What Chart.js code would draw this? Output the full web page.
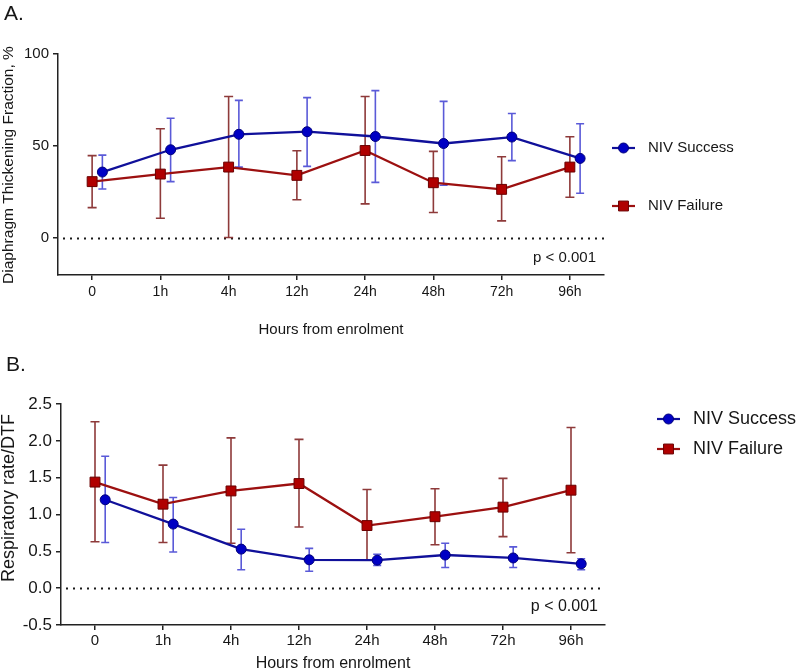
<!DOCTYPE html>
<html><head><meta charset="utf-8">
<script src="https://cdn.jsdelivr.net/npm/chart.js@4"></script>
<style>
html,body{margin:0;padding:0;background:#fff;}
#wrap{position:relative;width:797px;height:671px;overflow:hidden;background:#fff;}
canvas{position:absolute;left:0;}
#cA{top:0;width:797px;height:340px;}
#cB{top:340px;width:797px;height:331px;}
</style></head><body>
<div id="wrap">
<canvas id="cA" width="797" height="340"></canvas>
<canvas id="cB" width="797" height="331"></canvas>
</div>
<script>
// ---- data ----
const categories = ['0', '1h', '4h', '12h', '24h', '48h', '72h', '96h'];
const seriesNames = ['NIV Success', 'NIV Failure'];

// Panel A: Diaphragm Thickening Fraction, %
const dtfTicks = [0, 50, 100];
const dtfSuccessMean = [35.9, 48.0, 56.4, 57.8, 55.2, 51.4, 54.9, 43.3];
const dtfSuccessLow  = [26.7, 30.7, 38.6, 39.0, 30.3, 28.7, 42.1, 24.4];
const dtfSuccessHigh = [45.1, 65.1, 74.8, 76.3, 80.1, 74.3, 67.7, 62.1];
const dtfFailureMean = [30.7, 34.8, 38.6, 34.1, 47.6, 30.1, 26.5, 38.6];
const dtfFailureLow  = [16.6, 10.8, 0.4, 20.9, 18.6, 13.9, 9.4, 22.2];
const dtfFailureHigh = [44.8, 59.4, 76.9, 47.5, 76.9, 47.1, 44.2, 55.1];

// Panel B: Respiratory rate/DTF
const rrTicks = [-0.5, 0, 0.5, 1.0, 1.5, 2.0, 2.5];
const rrSuccessMean = [1.20, 0.87, 0.53, 0.385, 0.38, 0.45, 0.41, 0.33];
const rrSuccessLow  = [0.62, 0.49, 0.25, 0.23, 0.31, 0.28, 0.28, 0.25];
const rrSuccessHigh = [1.79, 1.23, 0.80, 0.54, 0.46, 0.61, 0.56, 0.40];
const rrFailureMean = [1.44, 1.14, 1.32, 1.42, 0.85, 0.97, 1.10, 1.33];
const rrFailureLow  = [0.63, 0.62, 0.61, 0.83, 0.38, 0.59, 0.70, 0.48];
const rrFailureHigh = [2.26, 1.67, 2.04, 2.02, 1.34, 1.35, 1.49, 2.18];

// ---- styles ----
const SANS = "'Liberation Sans', Arial, Helvetica, sans-serif";
const TXT = '#161616';
const AX = '#222222';
const BLUE_LINE = '#10109a', BLUE_FILL = '#0000c4', BLUE_EDGE = '#00007a', BLUE_BAR = '#5a5ad8';
const RED_LINE = '#9c1010', RED_FILL = '#b00000', RED_EDGE = '#6a0000', RED_BAR = '#8e3a3a';
const SUCCESS_SHIFT = 0.15;

const errorBars = {
  id: 'errorBars',
  beforeDatasetsDraw(chart) {
    const ctx = chart.ctx, ys = chart.scales.y, ca = chart.chartArea;
    ctx.save();
    // dotted zero reference line
    ctx.strokeStyle = '#1a1a1a'; ctx.lineWidth = 2; ctx.setLineDash([2, 5]);
    const y0 = Math.round(ys.getPixelForValue(0)) + 0.5;
    ctx.beginPath(); ctx.moveTo(ca.left + 5, y0); ctx.lineTo(ca.right, y0); ctx.stroke();
    ctx.setLineDash([]);
    chart.data.datasets.forEach((ds, di) => {
      const meta = chart.getDatasetMeta(di);
      ctx.strokeStyle = ds.barColor; ctx.lineWidth = 1.6;
      meta.data.forEach((pt, i) => {
        const x = pt.x;
        const yl = ys.getPixelForValue(ds.errLow[i]);
        const yh = ys.getPixelForValue(ds.errHigh[i]);
        const c = ds.capHalf;
        ctx.beginPath();
        ctx.moveTo(x, yl); ctx.lineTo(x, yh);
        ctx.moveTo(x - c, yl); ctx.lineTo(x + c, yl);
        ctx.moveTo(x - c, yh); ctx.lineTo(x + c, yh);
        ctx.stroke();
      });
    });
    ctx.restore();
  }
};

function drawMarker(ctx, style, x, y, r, fill, edge) {
  ctx.fillStyle = fill; ctx.strokeStyle = edge; ctx.lineWidth = 1;
  ctx.beginPath();
  if (style === 'circle') ctx.arc(x, y, r, 0, Math.PI * 2);
  else { const s = r * Math.SQRT1_2; ctx.rect(x - s, y - s, 2 * s, 2 * s); }
  ctx.fill(); ctx.stroke();
}

function textPlugin(t) {
  return {
    id: 'panelText',
    afterDraw(chart) {
      const ctx = chart.ctx;
      ctx.save();
      ctx.fillStyle = TXT;
      // panel letter
      ctx.font = '21px ' + SANS; ctx.textAlign = 'left'; ctx.textBaseline = 'middle';
      ctx.fillText(t.letter, t.letterX, t.letterY);
      // x title
      ctx.font = t.xTitleFont; ctx.textAlign = 'center';
      ctx.fillText('Hours from enrolment', t.xTitleX, t.xTitleY);
      // y title
      ctx.save();
      ctx.translate(t.yTitleX, t.yTitleY); ctx.rotate(-Math.PI / 2);
      ctx.font = t.yTitleFont; ctx.textAlign = 'center'; ctx.textBaseline = 'middle';
      ctx.fillText(t.yTitle, 0, 0);
      ctx.restore();
      // p value
      ctx.font = t.pFont; ctx.textAlign = 'right'; ctx.textBaseline = 'middle';
      ctx.fillText('p < 0.001', t.pX, t.pY);
      // legend
      chart.data.datasets.forEach((ds, i) => {
        const y = t.legY[i];
        ctx.strokeStyle = ds.borderColor; ctx.lineWidth = 2.2;
        ctx.beginPath(); ctx.moveTo(t.legX1, y); ctx.lineTo(t.legX2, y); ctx.stroke();
        drawMarker(ctx, ds.pointStyle, (t.legX1 + t.legX2) / 2, y, ds.pointRadius, ds.backgroundColor, ds.pointBorderColor);
        ctx.fillStyle = TXT; ctx.font = t.legFont; ctx.textAlign = 'left'; ctx.textBaseline = 'middle';
        ctx.fillText(ds.label, t.legTextX, y);
      });
      ctx.restore();
    }
  };
}

function makePanel(id, d, L, t) {
  const datasets = [
    { label: seriesNames[0], data: d.sMean.map((v, i) => ({ x: i + SUCCESS_SHIFT, y: v })),
      errLow: d.sLow, errHigh: d.sHigh, barColor: BLUE_BAR, capHalf: 4,
      borderColor: BLUE_LINE, backgroundColor: BLUE_FILL, pointBorderColor: BLUE_EDGE,
      pointStyle: 'circle', pointRadius: 5, pointBorderWidth: 1, borderWidth: 2.3, tension: 0 },
    { label: seriesNames[1], data: d.fMean.map((v, i) => ({ x: i, y: v })),
      errLow: d.fLow, errHigh: d.fHigh, barColor: RED_BAR, capHalf: 4.5,
      borderColor: RED_LINE, backgroundColor: RED_FILL, pointBorderColor: RED_EDGE,
      pointStyle: 'rect', pointRadius: 7, pointBorderWidth: 1, borderWidth: 2.3, tension: 0 }
  ];
  const gridOpts = { display: true, drawOnChartArea: false, drawTicks: true, tickLength: 5, color: AX, lineWidth: 1.5 };
  return new Chart(document.getElementById(id), {
    type: 'line',
    data: { datasets },
    plugins: [errorBars, textPlugin(t)],
    options: {
      responsive: false, animation: false, devicePixelRatio: 1,
      layout: { padding: L.padding },
      plugins: { legend: { display: false }, tooltip: { enabled: false }, title: { display: false } },
      scales: {
        x: {
          type: 'linear', min: -0.5, max: 7.5,
          afterBuildTicks: s => { s.ticks = categories.map((c, i) => ({ value: i })); },
          afterFit: s => { s.height = L.xHeight; },
          ticks: { callback: v => categories[v], font: L.xTickFont, color: TXT, padding: L.xPad, maxRotation: 0, autoSkip: false },
          grid: gridOpts, border: { display: true, color: AX, width: 1.5 }
        },
        y: {
          min: d.yMin, max: d.yMax,
          afterBuildTicks: s => { s.ticks = d.yTicks.map(v => ({ value: v })); },
          afterFit: s => { s.width = L.yWidth; },
          ticks: { callback: d.yFmt, font: L.yTickFont, color: TXT, padding: 4 },
          grid: gridOpts, border: { display: true, color: AX, width: 1.5 }
        }
      }
    }
  });
}

makePanel('cA',
  { sMean: dtfSuccessMean, sLow: dtfSuccessLow, sHigh: dtfSuccessHigh,
    fMean: dtfFailureMean, fLow: dtfFailureLow, fHigh: dtfFailureHigh,
    yMin: -20, yMax: 100, yTicks: dtfTicks, yFmt: v => String(v) },
  { padding: { left: 0, top: 54, right: 193, bottom: 0 }, xHeight: 65, yWidth: 58, xPad: 4,
    xTickFont: { family: SANS, size: 14 }, yTickFont: { family: SANS, size: 15 } },
  { letter: 'A.', letterX: 4, letterY: 14,
    xTitleFont: '15px ' + SANS, xTitleX: 331, xTitleY: 330,
    yTitle: 'Diaphragm Thickening Fraction, %', yTitleFont: '15.5px ' + SANS, yTitleX: 9, yTitleY: 165,
    pFont: '15px ' + SANS, pX: 596, pY: 258,
    legY: [148, 206], legX1: 612, legX2: 635, legTextX: 648, legFont: '15px ' + SANS });

makePanel('cB',
  { sMean: rrSuccessMean, sLow: rrSuccessLow, sHigh: rrSuccessHigh,
    fMean: rrFailureMean, fLow: rrFailureLow, fHigh: rrFailureHigh,
    yMin: -0.5, yMax: 2.5, yTicks: rrTicks, yFmt: v => v.toFixed(1) },
  { padding: { left: 0, top: 64, right: 192, bottom: 0 }, xHeight: 46, yWidth: 61, xPad: 2,
    xTickFont: { family: SANS, size: 15 }, yTickFont: { family: SANS, size: 17 } },
  { letter: 'B.', letterX: 6, letterY: 25,
    xTitleFont: '16px ' + SANS, xTitleX: 333, xTitleY: 324,
    yTitle: 'Respiratory rate/DTF', yTitleFont: '18px ' + SANS, yTitleX: 9, yTitleY: 158,
    pFont: '16px ' + SANS, pX: 598, pY: 267,
    legY: [79, 109], legX1: 657, legX2: 680, legTextX: 693, legFont: '18px ' + SANS });
</script>
</body></html>
